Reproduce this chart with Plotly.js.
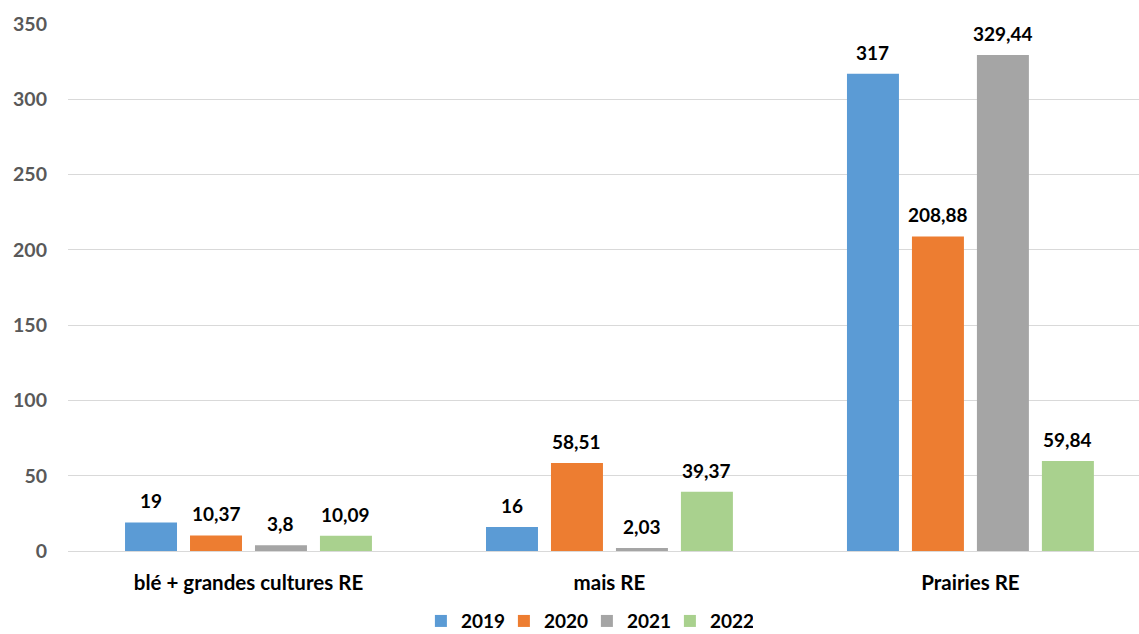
<!DOCTYPE html>
<html>
<head>
<meta charset="utf-8">
<script src="https://cdn.plot.ly/plotly-3.0.1.min.js"></script>
<style>html,body{margin:0;padding:0;background:#fff}#chart{width:1139px;height:634px}</style>
</head>
<body>
<div id="chart"></div>
<script>
const categories = ["blé + grandes cultures RE", "mais RE", "Prairies RE"];
const seriesNames = ["2019", "2020", "2021", "2022"];
const v2019 = [19, 16, 317];
const v2020 = [10.37, 58.51, 208.88];
const v2021 = [3.8, 2.03, 329.44];
const v2022 = [10.09, 39.37, 59.84];
const yTicks = [0, 50, 100, 150, 200, 250, 300, 350];

const seriesValues = [v2019, v2020, v2021, v2022];
const colors = ["#5B9BD5", "#ED7D31", "#A5A5A5", "#A9D18E"];
const fmt = v => String(v).replace('.', ',');
const FONT = "Lato, 'Liberation Sans', sans-serif";

const traces = seriesValues.map((vals, i) => ({
  type: 'bar',
  name: seriesNames[i],
  x: categories,
  y: vals,
  marker: {color: colors[i]},
  hoverinfo: 'none'
}));

const bargap = 0.28, bargroupgap = 0.2;
const slot = (1 - bargap) / 4;
const annotations = [];
seriesValues.forEach((vals, i) => {
  vals.forEach((v, j) => {
    annotations.push({
      x: j + (i - 1.5) * slot,
      y: v,
      xref: 'x', yref: 'y',
      text: '<b>' + fmt(v) + '</b>',
      showarrow: false,
      yanchor: 'bottom',
      yshift: 8,
      font: {family: FONT, size: 19, color: '#000'}
    });
  });
});

const layout = {
  width: 1139, height: 634,
  margin: {l: 68, r: 0, t: 24, b: 83, autoexpand: false},
  paper_bgcolor: '#fff', plot_bgcolor: '#fff',
  barmode: 'group', bargap: bargap, bargroupgap: bargroupgap,
  showlegend: true,
  font: {family: FONT},
  xaxis: {
    type: 'category',
    range: [-0.5, 2.467],
    showgrid: false, showline: false, zeroline: false,
    ticks: '', ticklabelstandoff: 17,
    tickfont: {family: FONT, size: 20.5, color: '#000', weight: 'bold'}
  },
  yaxis: {
    range: [0, 350],
    tickvals: yTicks,
    ticktext: yTicks.map(String),
    showgrid: true, gridcolor: '#D9D9D9', gridwidth: 1,
    zeroline: true, zerolinecolor: '#D9D9D9', zerolinewidth: 1,
    showline: false, ticks: '', ticklabelstandoff: 20,
    tickfont: {family: FONT, size: 19.5, color: '#595959', weight: 'bold'}
  },
  legend: {
    orientation: 'h', x: 0.4845, xanchor: 'center', y: -0.133, yanchor: 'middle',
    font: {family: FONT, size: 19, color: '#000', weight: 'bold'},
    entrywidth: 38, entrywidthmode: 'pixels', traceorder: 'normal'
  },
  annotations: annotations
};

Plotly.newPlot('chart', traces, layout, {displayModeBar: false, staticPlot: true});
</script>
</body>
</html>
